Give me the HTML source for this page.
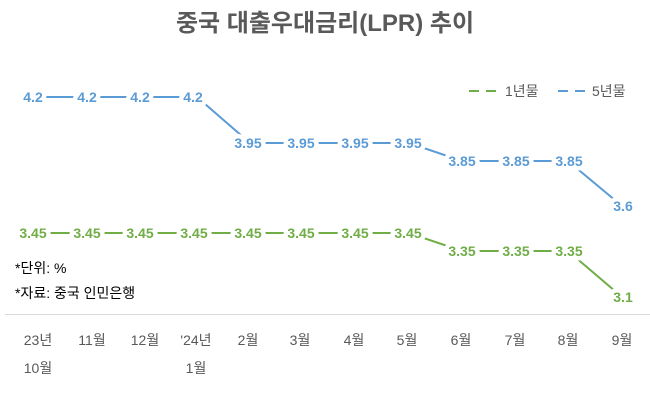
<!DOCTYPE html>
<html><head><meta charset="utf-8"><style>
html,body{margin:0;padding:0;background:#fff;}
svg{display:block;font-family:"Liberation Sans","Noto Sans CJK KR",sans-serif;}
.b{fill:#5B9BD5;font-weight:bold;font-size:14px;}
.g{fill:#70AD47;font-weight:bold;font-size:14px;}
.lab{stroke:#fff;stroke-width:9px;paint-order:stroke;stroke-linejoin:round;}
.ax{fill:#595959;font-size:14px;}
</style></head><body>
<svg width="650" height="408" viewBox="0 0 650 408">
<text x="325" y="31" text-anchor="middle" font-size="24" font-weight="bold" fill="#595959">중국 대출우대금리(LPR) 추이</text>
<line x1="5" y1="314.5" x2="650" y2="314.5" stroke="#d9d9d9" stroke-width="1"/>
<polyline fill="none" stroke="#5B9BD5" stroke-width="2" points="37,97 90,97 143,97 197,97 250,143 303,143 356,143 409,143 462,161 515,161 568,161 622,206"/>
<polyline fill="none" stroke="#70AD47" stroke-width="2" points="37,233 90,233 143,233 197,233 250,233 303,233 356,233 409,233 462,251 515,251 568,251 622,297"/>
<g text-anchor="middle" class="lab">
<text class="b" x="33" y="102">4.2</text>
<text class="b" x="87" y="102">4.2</text>
<text class="b" x="140" y="102">4.2</text>
<text class="b" x="193" y="102">4.2</text>
<text class="b" x="248" y="148">3.95</text>
<text class="b" x="301" y="148">3.95</text>
<text class="b" x="355" y="148">3.95</text>
<text class="b" x="408" y="148">3.95</text>
<text class="b" x="462" y="166">3.85</text>
<text class="b" x="516" y="166">3.85</text>
<text class="b" x="569" y="166">3.85</text>
<text class="b" x="623" y="211">3.6</text>
<text class="g" x="33" y="238">3.45</text>
<text class="g" x="87" y="238">3.45</text>
<text class="g" x="140" y="238">3.45</text>
<text class="g" x="194" y="238">3.45</text>
<text class="g" x="248" y="238">3.45</text>
<text class="g" x="301" y="238">3.45</text>
<text class="g" x="355" y="238">3.45</text>
<text class="g" x="408" y="238">3.45</text>
<text class="g" x="462" y="256">3.35</text>
<text class="g" x="516" y="256">3.35</text>
<text class="g" x="569" y="256">3.35</text>
<text class="g" x="623" y="302">3.1</text>
</g>
<line x1="469" y1="91" x2="479" y2="91" stroke="#70AD47" stroke-width="2"/>
<line x1="486" y1="91" x2="496" y2="91" stroke="#70AD47" stroke-width="2"/>
<text x="505" y="96" font-size="14" fill="#595959">1년물</text>
<line x1="558" y1="91" x2="568" y2="91" stroke="#5B9BD5" stroke-width="2"/>
<line x1="575" y1="91" x2="585" y2="91" stroke="#5B9BD5" stroke-width="2"/>
<text x="592" y="96" font-size="14" fill="#595959">5년물</text>
<text x="15" y="273" font-size="14" fill="#000">*단위: %</text>
<text x="15" y="298" font-size="14" fill="#000">*자료: 중국 인민은행</text>
<g text-anchor="middle" class="ax">
<text x="38" y="345">23년</text><text x="38" y="373">10월</text>
<text x="92" y="345">11월</text>
<text x="145" y="345">12월</text>
<text x="196" y="345">'24년</text><text x="196" y="373">1월</text>
<text x="248" y="345">2월</text>
<text x="300" y="345">3월</text>
<text x="354" y="345">4월</text>
<text x="407" y="345">5월</text>
<text x="461" y="345">6월</text>
<text x="515" y="345">7월</text>
<text x="568" y="345">8월</text>
<text x="622" y="345">9월</text>
</g>
</svg>
</body></html>
